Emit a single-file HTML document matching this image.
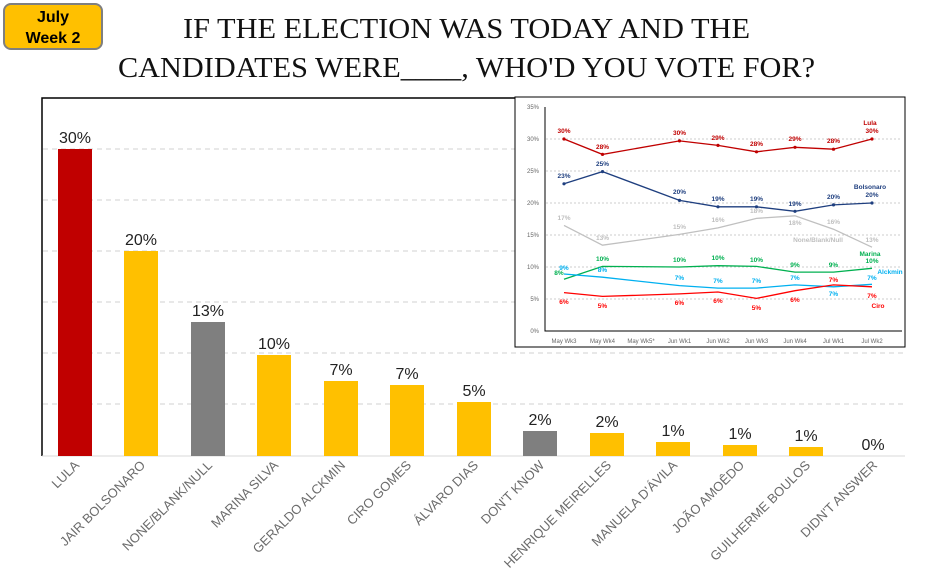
<!DOCTYPE html>
<html><head><meta charset="utf-8"><style>
body{margin:0;background:#fff;width:944px;height:586px;overflow:hidden}
svg{display:block}
</style></head><body>
<svg width="944" height="586" viewBox="0 0 944 586" xmlns="http://www.w3.org/2000/svg" font-family="Liberation Sans, sans-serif">
<rect x="4" y="4" width="98" height="45" rx="7" fill="#ffc000" stroke="#7f7f7f" stroke-width="2"/>
<text x="53" y="22" font-size="16" font-weight="bold" text-anchor="middle">July</text>
<text x="53" y="43" font-size="16" font-weight="bold" text-anchor="middle">Week 2</text>
<text x="183" y="38" font-family="Liberation Serif, serif" font-size="29" fill="#111" textLength="567" lengthAdjust="spacingAndGlyphs">IF THE ELECTION WAS TODAY AND THE</text>
<text x="118" y="77" font-family="Liberation Serif, serif" font-size="29" fill="#111" textLength="697" lengthAdjust="spacingAndGlyphs">CANDIDATES WERE____, WHO'D YOU VOTE FOR?</text>
<!-- main frame -->
<path d="M42 456 V98 H905" fill="none" stroke="#000" stroke-width="1.5"/>
<g stroke="#d0d0d0" stroke-dasharray="5,4">
<line x1="43" x2="905" y1="149" y2="149"/><line x1="43" x2="905" y1="200" y2="200"/><line x1="43" x2="905" y1="251" y2="251"/><line x1="43" x2="905" y1="302" y2="302"/><line x1="43" x2="905" y1="353" y2="353"/><line x1="43" x2="905" y1="404" y2="404"/>
</g>
<line x1="42" x2="905" y1="456" y2="456" stroke="#d9d9d9"/>
<g>
<rect x="58" y="149" width="34" height="307" fill="#c00000"/>
<rect x="124" y="251" width="34" height="205" fill="#ffc000"/>
<rect x="191" y="322" width="34" height="134" fill="#7f7f7f"/>
<rect x="257" y="355" width="34" height="101" fill="#ffc000"/>
<rect x="324" y="381" width="34" height="75" fill="#ffc000"/>
<rect x="390" y="385" width="34" height="71" fill="#ffc000"/>
<rect x="457" y="402" width="34" height="54" fill="#ffc000"/>
<rect x="523" y="431" width="34" height="25" fill="#7f7f7f"/>
<rect x="590" y="433" width="34" height="23" fill="#ffc000"/>
<rect x="656" y="442" width="34" height="14" fill="#ffc000"/>
<rect x="723" y="445" width="34" height="11" fill="#ffc000"/>
<rect x="789" y="447" width="34" height="9" fill="#ffc000"/>
</g>
<g font-size="16" text-anchor="middle" fill="#222">
<text x="75" y="143">30%</text><text x="141" y="245">20%</text><text x="208" y="316">13%</text><text x="274" y="349">10%</text><text x="341" y="375">7%</text><text x="407" y="379">7%</text><text x="474" y="396">5%</text><text x="540" y="425">2%</text><text x="607" y="427">2%</text><text x="673" y="436">1%</text><text x="740" y="439">1%</text><text x="806" y="441">1%</text><text x="873" y="450">0%</text>
</g>
<g font-size="13" fill="#6b6b6b" text-anchor="end">
<text transform="translate(80,466) rotate(-45)">LULA</text>
<text transform="translate(146,466) rotate(-45)">JAIR BOLSONARO</text>
<text transform="translate(213,466) rotate(-45)">NONE/BLANK/NULL</text>
<text transform="translate(279,466) rotate(-45)">MARINA SILVA</text>
<text transform="translate(346,466) rotate(-45)">GERALDO ALCKMIN</text>
<text transform="translate(412,466) rotate(-45)">CIRO GOMES</text>
<text transform="translate(479,466) rotate(-45)">ÁLVARO DIAS</text>
<text transform="translate(545,466) rotate(-45)">DON'T KNOW</text>
<text transform="translate(612,466) rotate(-45)">HENRIQUE MEIRELLES</text>
<text transform="translate(678,466) rotate(-45)">MANUELA D'ÁVILA</text>
<text transform="translate(745,466) rotate(-45)">JOÃO AMOÊDO</text>
<text transform="translate(811,466) rotate(-45)">GUILHERME BOULOS</text>
<text transform="translate(878,466) rotate(-45)">DIDN'T ANSWER</text>
</g>
<!-- inset -->
<rect x="515" y="97" width="390" height="250" fill="#fff" stroke="#000" stroke-width="1"/>
<path d="M545 107 V331 H902" fill="none" stroke="#000" stroke-width="1"/>
<g stroke="#ccc" stroke-dasharray="2,2">
<line x1="546" x2="902" y1="299" y2="299"/><line x1="546" x2="902" y1="267" y2="267"/><line x1="546" x2="902" y1="235" y2="235"/><line x1="546" x2="902" y1="203" y2="203"/><line x1="546" x2="902" y1="171" y2="171"/><line x1="546" x2="902" y1="139" y2="139"/>
</g>
<g font-size="6" fill="#666" text-anchor="end">
<text x="539" y="109">35%</text><text x="539" y="141">30%</text><text x="539" y="173">25%</text><text x="539" y="205">20%</text><text x="539" y="237">15%</text><text x="539" y="269">10%</text><text x="539" y="301">5%</text><text x="539" y="333">0%</text>
</g>
<g font-size="6" fill="#666" text-anchor="middle">
<text x="564" y="343">May Wk3</text><text x="602.5" y="343">May Wk4</text><text x="641" y="343">May Wk5*</text><text x="679.5" y="343">Jun Wk1</text><text x="718" y="343">Jun Wk2</text><text x="756.5" y="343">Jun Wk3</text><text x="795" y="343">Jun Wk4</text><text x="833.5" y="343">Jul Wk1</text><text x="872" y="343">Jul Wk2</text>
</g>
<g fill="none" stroke-width="1.3">
<polyline stroke="#c00000" points="564,139 602.5,154.4 679.5,140.9 718,145.4 756.5,151.8 795,147.3 833.5,149.2 872,139"/>
<polyline stroke="#1f3f7f" points="564,183.8 602.5,171.6 679.5,200.4 718,206.8 756.5,206.8 795,211.3 833.5,204.9 872,203"/>
<polyline stroke="#c0c0c0" points="564,225.4 602.5,245.2 679.5,234.4 718,227.9 756.5,218.4 795,215.8 833.5,229.2 872,247.2"/>
<polyline stroke="#00b050" points="564,279.2 602.5,266.4 679.5,267 718,265.7 756.5,266.4 795,272.1 833.5,272.1 872,268.3"/>
<polyline stroke="#00b0f0" points="564,274 602.5,277.2 679.5,285.6 718,288.1 756.5,288.1 795,284.9 833.5,286.8 872,284.3"/>
<polyline stroke="#ff0000" points="564,292.6 602.5,296.4 679.5,293.9 718,292 756.5,298.4 795,290.7 833.5,284.9 872,286.8"/>
</g>
<g font-size="6.5" font-weight="bold" text-anchor="middle">
<g fill="#c00000"><text x="564" y="133">30%</text><text x="602.5" y="149">28%</text><text x="679.5" y="135">30%</text><text x="718" y="140">29%</text><text x="756.5" y="146">28%</text><text x="795" y="141">29%</text><text x="833.5" y="143">28%</text><text x="872" y="133">30%</text><text x="870" y="125">Lula</text></g>
<g fill="#1f3f7f"><text x="564" y="178">23%</text><text x="602.5" y="166">25%</text><text x="679.5" y="194">20%</text><text x="718" y="201">19%</text><text x="756.5" y="201">19%</text><text x="795" y="206">19%</text><text x="833.5" y="199">20%</text><text x="872" y="197">20%</text><text x="870" y="189">Bolsonaro</text></g>
<g fill="#bfbfbf"><text x="564" y="220">17%</text><text x="602.5" y="240">13%</text><text x="679.5" y="229">15%</text><text x="718" y="222">16%</text><text x="756.5" y="213">18%</text><text x="795" y="225">18%</text><text x="833.5" y="224">16%</text><text x="872" y="242">13%</text><text x="818" y="242">None/Blank/Null</text></g>
<g fill="#00b050"><text x="559" y="275">8%</text><text x="602.5" y="261">10%</text><text x="679.5" y="262">10%</text><text x="718" y="260">10%</text><text x="756.5" y="262">10%</text><text x="795" y="267">9%</text><text x="833.5" y="267">9%</text><text x="872" y="263">10%</text><text x="870" y="256">Marina</text></g>
<g fill="#00b0f0"><text x="564" y="270">9%</text><text x="602.5" y="272">8%</text><text x="679.5" y="280">7%</text><text x="718" y="283">7%</text><text x="756.5" y="283">7%</text><text x="795" y="280">7%</text><text x="833.5" y="296">7%</text><text x="872" y="280">7%</text><text x="890" y="274">Alckmin</text></g>
<g fill="#ff0000"><text x="564" y="304">6%</text><text x="602.5" y="308">5%</text><text x="679.5" y="305">6%</text><text x="718" y="303">6%</text><text x="756.5" y="310">5%</text><text x="795" y="302">6%</text><text x="833.5" y="282">7%</text><text x="872" y="298">7%</text><text x="878" y="308">Ciro</text></g>
</g>
<g>
<g fill="#c00000"><circle cx="564" cy="139" r="1.6"/><circle cx="602.5" cy="154.4" r="1.6"/><circle cx="679.5" cy="140.9" r="1.6"/><circle cx="718" cy="145.4" r="1.6"/><circle cx="756.5" cy="151.8" r="1.6"/><circle cx="795" cy="147.3" r="1.6"/><circle cx="833.5" cy="149.2" r="1.6"/><circle cx="872" cy="139" r="1.6"/></g>
<g fill="#1f3f7f"><circle cx="564" cy="183.8" r="1.6"/><circle cx="602.5" cy="171.6" r="1.6"/><circle cx="679.5" cy="200.4" r="1.6"/><circle cx="718" cy="206.8" r="1.6"/><circle cx="756.5" cy="206.8" r="1.6"/><circle cx="795" cy="211.3" r="1.6"/><circle cx="833.5" cy="204.9" r="1.6"/><circle cx="872" cy="203" r="1.6"/></g>
</g>
</svg>
</body></html>
